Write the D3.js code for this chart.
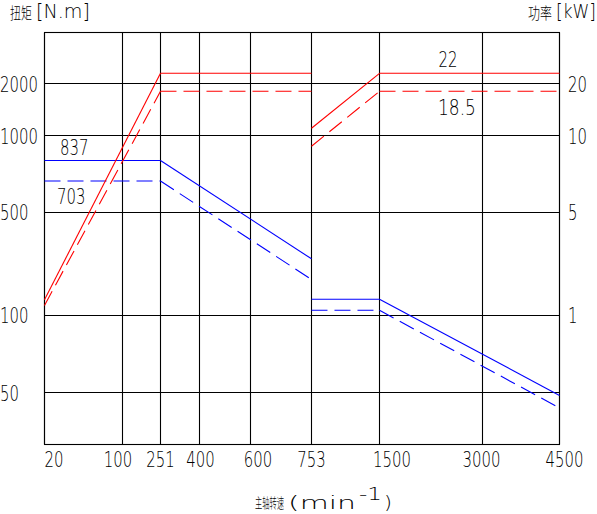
<!DOCTYPE html>
<html><head><meta charset="utf-8">
<script src="https://cdn.jsdelivr.net/npm/d3@7"></script>
<style>
html,body{margin:0;padding:0;background:#fff;}
svg{display:block;}
text{font-family:"DejaVu Sans","Liberation Sans Narrow",sans-serif;font-weight:200;fill:#000;}
.cjk{font-family:"Noto Sans CJK SC","Noto Sans CJK JP",sans-serif;font-weight:300;}
</style></head>
<body>
<svg id="chart" width="597" height="514"></svg>
<script>
// ---- data ----
const speedTicks  = [20, 100, 251, 400, 600, 753, 1500, 3000, 4500];
const torqueTicks = [50, 100, 500, 1000, 2000];
const powerTicks  = [1, 5, 10, 20];

const lowGearSpeed  = [20, 251, 753];
const highGearSpeed = [753, 1500, 4500];

const torqueLowSolid   = [837, 837, 319];
const torqueLowDashed  = [703, 703, 239];
const torqueHighSolid  = [162, 162, 48.3];
const torqueHighDashed = [119, 119, 41.1];

const powerLowSolid    = [1.6, 22, 22];
const powerLowDashed   = [1.38, 18.5, 18.5];
const powerHighSolid   = [11.4, 22, 22];
const powerHighDashed  = [9.3, 18.5, 18.5];

const annotations = ["837", "703", "22", "18.5"];

// ---- scales (piecewise, following the irregular axis of the original) ----
const svg = d3.select("#chart");
const L = 44.5, R = 559.5, T = 32.5, B = 444.5;
const W = R - L, H = B - T;
const xFrac = [0, 0.1515, 0.2252, 0.301, 0.4, 0.5184, 0.6505, 0.8505, 1];
const x = d3.scaleLinear().domain(speedTicks).range(xFrac.map(f => L + f * W));
const yDomain = [20, 50, 100, 500, 1000, 2000, 3000];
const yFrac = [0, 0.1262, 0.3138, 0.5638, 0.75, 0.8762, 1];
const yT = d3.scaleLinear().domain(yDomain).range(yFrac.map(f => B - f * H));
const yP = d3.scaleLinear().domain(yDomain.map(v => v / 100)).range(yFrac.map(f => B - f * H));

const g = svg.append("g");

// grid
g.selectAll("line.vg").data(speedTicks).enter().append("line")
  .attr("x1", d => Math.round(x(d) - 0.5) + 0.5).attr("x2", d => Math.round(x(d) - 0.5) + 0.5)
  .attr("y1", T).attr("y2", B).attr("stroke", "#000").attr("stroke-width", 1.1);
g.selectAll("line.hg").data(torqueTicks).enter().append("line")
  .attr("y1", d => Math.round(yT(d) - 0.5) + 0.5).attr("y2", d => Math.round(yT(d) - 0.5) + 0.5)
  .attr("x1", L).attr("x2", R).attr("stroke", "#000").attr("stroke-width", 1.1);
g.append("rect").attr("x", L).attr("y", T).attr("width", W).attr("height", H)
  .attr("fill", "none").attr("stroke", "#000").attr("stroke-width", 1.1);

// series
const line = d3.line();
function drawSeries(speeds, vals, scale, color, dashed) {
  for (let i = 0; i < speeds.length - 1; i++) {
    const p = g.append("path")
      .attr("d", line([[x(speeds[i]), scale(vals[i])], [x(speeds[i + 1]), scale(vals[i + 1])]]))
      .attr("fill", "none").attr("stroke", color).attr("stroke-width", 1.1);
    if (dashed) p.attr("stroke-dasharray", "16,7");
  }
}
drawSeries(lowGearSpeed, torqueLowSolid, yT, "#0000ff", false);
drawSeries(lowGearSpeed, torqueLowDashed, yT, "#0000ff", true);
drawSeries(highGearSpeed, torqueHighSolid, yT, "#0000ff", false);
drawSeries(highGearSpeed, torqueHighDashed, yT, "#0000ff", true);
drawSeries(lowGearSpeed, powerLowSolid, yP, "#ff0000", false);
drawSeries(lowGearSpeed, powerLowDashed, yP, "#ff0000", true);
drawSeries(highGearSpeed, powerHighSolid, yP, "#ff0000", false);
drawSeries(highGearSpeed, powerHighDashed, yP, "#ff0000", true);

// text helper: place text with its left edge at (tx, ty baseline), squeezed to width w
function label(str, tx, ty, size, w, cls) {
  const t = g.append("text").attr("font-size", size).text(str);
  if (cls) t.attr("class", cls);
  const nat = t.node().getComputedTextLength() || w;
  t.attr("transform", `translate(${tx},${ty}) scale(${w / nat},1)`);
  return t;
}

const FS = 21.5, CW = 9.5;
torqueTicks.forEach(d => label(String(d), 0, yT(d) + 8, FS, String(d).length * CW));
powerTicks.forEach(d => label(String(d), 568, yP(d) + 8, FS, String(d).length * CW));
const xShift = {20: 0, 100: -4.5, 251: 0, 400: 1, 600: 7.5, 753: 0, 1500: 12.5, 3000: -1, 4500: 5};
speedTicks.forEach(d => {
  const w = String(d).length * CW;
  const left = d === 20 ? x(d) : x(d) + xShift[d] - w / 2;
  label(String(d), left, 467, FS, w);
});

// annotations
const annPos = [
  [x(20) + 15.5, yT(torqueLowSolid[0]) - 5.5],
  [x(20) + 12.5, yT(torqueLowDashed[0]) + 22.5],
  [448 - CW, yP(powerHighSolid[1]) - 6.5],
  [457 - 2 * CW, yP(powerHighDashed[1]) + 23.5]
];
annotations.forEach((d, i) => label(d, annPos[i][0], annPos[i][1], FS, d.length * CW));

// axis titles
label("扭矩", 10, 19, 15.5, 22, "cjk");
label("[N.m]", 36, 18, 19, 54);
label("功率", 528, 19, 15.5, 24, "cjk");
label("[kW]", 556, 18, 19, 40);

label("主轴转速", 255, 508, 14, 29, "cjk");
label("(min", 288, 509, 18.5, 68);
label("-1", 359, 500, 17, 23);
label(")", 384, 509, 18.5, 8);
</script>
</body></html>
